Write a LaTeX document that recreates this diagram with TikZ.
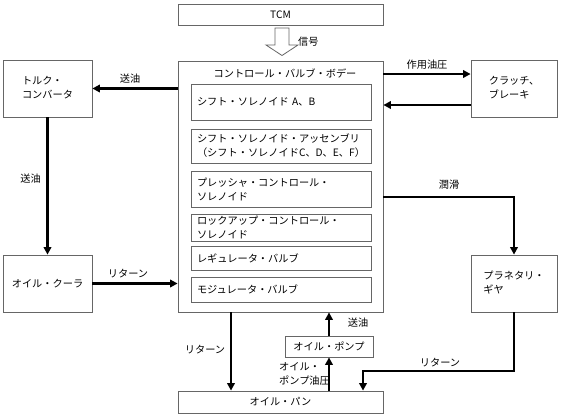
\documentclass[tikz,border=0pt]{standalone}
\usepackage{fontspec}
\setmainfont{Noto Sans CJK JP}
\usetikzlibrary{arrows.meta}
\begin{document}
\begin{tikzpicture}[x=1bp,y=-1bp,
  font=\fontsize{10.2bp}{14bp}\selectfont,
  box/.style={draw=black!60, line width=0.8bp, fill=white, inner sep=0pt, align=center},
  inbox/.style={draw=black!60, line width=0.8bp, minimum width=180bp, text width=168bp, inner xsep=6bp, inner ysep=0pt, align=left},
  arr/.style={line width=2.1bp, -{Triangle[length=7.5bp,width=7.5bp]}},
  lbl/.style={inner sep=0pt}]
\useasboundingbox (0,0) rectangle (561,417);
% main boxes
\node[box, minimum width=205bp, minimum height=21bp] (tcm) at (280.5,15) {TCM};
\node[box, minimum width=205bp, minimum height=251bp] (body) at (280.5,186.5) {};
\node[lbl] (title) at (285,73) {コントロール・バルブ・ボデー};
\node[inbox, minimum height=36bp] (b1) at (281,102) {シフト・ソレノイド A、B};
\node[inbox, minimum height=34bp] (b2) at (281,146) {シフト・ソレノイド・アッセンブリ\\（シフト・ソレノイドC、D、E、F）};
\node[inbox, minimum height=36bp] (b3) at (281,189) {プレッシャ・コントロール・\\ソレノイド};
\node[inbox, minimum height=27bp] (b4) at (281,227.5) {ロックアップ・コントロール・\\ソレノイド};
\node[inbox, minimum height=24bp] (b5) at (281,258) {レギュレータ・バルブ};
\node[inbox, minimum height=25bp] (b6) at (281,289.5) {モジュレータ・バルブ};
\node[box, minimum width=89bp, minimum height=57bp] (torque) at (47.5,88.5) {\begin{tabular}{@{}l@{}}トルク・\\コンバータ\end{tabular}};
\node[box, minimum width=89bp, minimum height=57bp] (cooler) at (47.5,283.5) {オイル・クーラ};
\node[box, minimum width=86bp, minimum height=57bp] (clutch) at (514,88.5) {\begin{tabular}{@{}l@{}}クラッチ、\\ブレーキ\end{tabular}};
\node[box, minimum width=86bp, minimum height=57bp] (planet) at (514,283.5) {\begin{tabular}{@{}l@{}}プラネタリ・\\ギヤ\end{tabular}};
\node[box, minimum width=205bp, minimum height=22bp] (pan) at (280.5,402) {オイル・パン};
\node[box, minimum width=88bp, minimum height=21bp] (pump) at (329,346.5) {オイル・ポンプ};
% signal hollow arrow
\draw[draw=black!60, line width=0.8bp, fill=white]
  (275,28) -- (289,28) -- (289,45) -- (298,45) -- (282,55.5) -- (266,45) -- (275,45) -- cycle;
\node[lbl, anchor=west] (sig) at (298,42) {信号};
% connectors
\draw[arr] (body.west |- torque.east) -- (torque.east);
\node[lbl] (l1) at (130,79) {送油};
\draw[arr] (torque.south) -- (cooler.north);
\node[lbl] (l2) at (30.5,179) {送油};
\draw[arr] (cooler.east) -- (body.west |- cooler.east);
\node[lbl] (l3) at (128,274) {リターン};
\coordinate (c1) at (0,74);
\coordinate (c2) at (0,105);
\draw[arr] (body.east |- c1) -- (clutch.west |- c1);
\node[lbl] (l4) at (427,65) {作用油圧};
\draw[arr] (clutch.west |- c2) -- (body.east |- c2);
\coordinate (c3) at (0,197);
\draw[arr] (body.east |- c3) -- (planet.north |- c3) -- (planet.north);
\node[lbl] (l5) at (449,185) {潤滑};
\coordinate (c4) at (363,371);
\draw[arr] (planet.south) -- (planet.south |- c4) -- (c4) -- (pan.north -| c4);
\node[lbl] (l6) at (440,363) {リターン};
\coordinate (c5) at (231,0);
\draw[arr] (body.south -| c5) -- (pan.north -| c5);
\node[lbl] (l7) at (205,350) {リターン};
\draw[arr] (pan.north -| pump.south) -- (pump.south);
\node[lbl, anchor=west, align=left] (l8) at (279,373.5) {オイル・\\ポンプ油圧};
\draw[arr] (pump.north) -- (body.south -| pump.north);
\node[lbl] (l9) at (358,323) {送油};
\end{tikzpicture}
\end{document}
